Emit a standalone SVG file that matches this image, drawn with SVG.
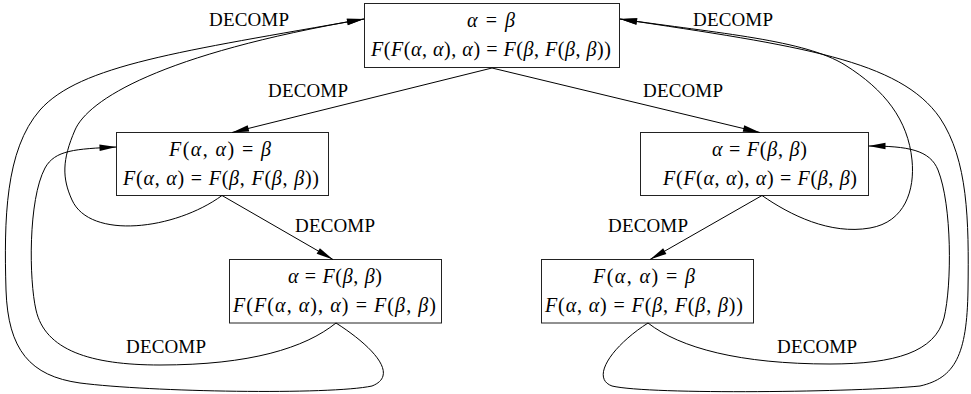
<svg xmlns="http://www.w3.org/2000/svg" width="971" height="394" viewBox="0 0 971 394">
<style>
.box{fill:#fff;stroke:#222;stroke-width:1}
.edge{fill:none;stroke:#000;stroke-width:1;marker-end:url(#ah)}
.lbl{font-family:"Liberation Serif","Times New Roman",serif;font-size:19px;text-anchor:middle;fill:#000}
.m{font-family:"Liberation Serif","Times New Roman",serif;font-size:20px;text-anchor:middle;fill:#000}
.i{font-style:italic}
</style>
<defs>
<marker id="ah" markerUnits="userSpaceOnUse" markerWidth="17" markerHeight="7" refX="17" refY="3.25" orient="auto" overflow="visible">
<path d="M0,0 L17,3.25 L0,6.5 z" fill="#000"/>
</marker>
</defs>
<g id="node-top">
<rect class="box" x="364.5" y="3.5" width="255" height="64"/>
<text class="m" x="491" y="27" textLength="48"><tspan class="i">α</tspan> = <tspan class="i">β</tspan></text>
<text class="m" x="491" y="56" textLength="240"><tspan class="i">F</tspan>(<tspan class="i">F</tspan>(<tspan class="i">α</tspan>, <tspan class="i">α</tspan>), <tspan class="i">α</tspan>) = <tspan class="i">F</tspan>(<tspan class="i">β</tspan>, <tspan class="i">F</tspan>(<tspan class="i">β</tspan>, <tspan class="i">β</tspan>))</text>
</g>
<g id="node-left">
<rect class="box" x="116.5" y="132.5" width="212" height="63"/>
<text class="m" x="220" y="156" textLength="102"><tspan class="i">F</tspan>(<tspan class="i">α</tspan>, <tspan class="i">α</tspan>) = <tspan class="i">β</tspan></text>
<text class="m" x="221" y="185" textLength="196"><tspan class="i">F</tspan>(<tspan class="i">α</tspan>, <tspan class="i">α</tspan>) = <tspan class="i">F</tspan>(<tspan class="i">β</tspan>, <tspan class="i">F</tspan>(<tspan class="i">β</tspan>, <tspan class="i">β</tspan>))</text>
</g>
<g id="node-right">
<rect class="box" x="640.5" y="132.5" width="228" height="63"/>
<text class="m" x="759.5" y="156" textLength="95"><tspan class="i">α</tspan> = <tspan class="i">F</tspan>(<tspan class="i">β</tspan>, <tspan class="i">β</tspan>)</text>
<text class="m" x="760" y="185" textLength="194"><tspan class="i">F</tspan>(<tspan class="i">F</tspan>(<tspan class="i">α</tspan>, <tspan class="i">α</tspan>), <tspan class="i">α</tspan>) = <tspan class="i">F</tspan>(<tspan class="i">β</tspan>, <tspan class="i">β</tspan>)</text>
</g>
<g id="node-bottom-left">
<rect class="box" x="229.5" y="259.5" width="212" height="63.5"/>
<text class="m" x="335" y="283" textLength="94"><tspan class="i">α</tspan> = <tspan class="i">F</tspan>(<tspan class="i">β</tspan>, <tspan class="i">β</tspan>)</text>
<text class="m" x="334.5" y="312" textLength="203"><tspan class="i">F</tspan>(<tspan class="i">F</tspan>(<tspan class="i">α</tspan>, <tspan class="i">α</tspan>), <tspan class="i">α</tspan>) = <tspan class="i">F</tspan>(<tspan class="i">β</tspan>, <tspan class="i">β</tspan>)</text>
</g>
<g id="node-bottom-right">
<rect class="box" x="541.5" y="259.5" width="212" height="63.5"/>
<text class="m" x="644" y="283" textLength="102"><tspan class="i">F</tspan>(<tspan class="i">α</tspan>, <tspan class="i">α</tspan>) = <tspan class="i">β</tspan></text>
<text class="m" x="644" y="312" textLength="198"><tspan class="i">F</tspan>(<tspan class="i">α</tspan>, <tspan class="i">α</tspan>) = <tspan class="i">F</tspan>(<tspan class="i">β</tspan>, <tspan class="i">F</tspan>(<tspan class="i">β</tspan>, <tspan class="i">β</tspan>))</text>
</g>
<g id="connectors">
<path class="edge" d="M492,68 L232,132.5"/>
<path class="edge" d="M492,68 L760,132.5"/>
<path class="edge" d="M222,195.5 L333,259.5"/>
<path class="edge" d="M762,195.5 L650,259.5"/>
<path class="edge" d="M222,195.5 C175,230 90,240 72,200 C62,178 62,160 75,130 C88,100 160,54 364,19"/>
<path class="edge" d="M336,323 C372,346 400,375 372,386 C330,395 150,392 80,383 C30,376 8,350 6,290 C4,220 5,150 40,110 C80,65 180,51.5 364,19"/>
<path class="edge" d="M336,323 C305,348 250,365 160,365 C90,365 45,350 36,310 C29,280 28,200 45,168 C55,150 75,149 116.5,147"/>
<path class="edge" d="M762,195.5 C790,215 830,235 870,228 C905,222 915,190 912,160 C908,120 885,90 845,65 C805,40 720,33.5 620,19"/>
<path class="edge" d="M648,323 C612,346 590,378 612,386 C650,395 860,392 920,386 C955,378 967,355 968,290 C969,220 968,160 940,118 C900,60 800,46 620,19"/>
<path class="edge" d="M648,323 C680,348 740,364 830,364 C895,364 935,352 944,318 C952,285 952,205 938,170 C930,150 908,146 868.5,146"/>
<text class="lbl" x="249" y="26" textLength="80">DECOMP</text>
<text class="lbl" x="733" y="26" textLength="80">DECOMP</text>
<text class="lbl" x="308" y="97" textLength="80">DECOMP</text>
<text class="lbl" x="683" y="97" textLength="80">DECOMP</text>
<text class="lbl" x="335" y="232" textLength="80">DECOMP</text>
<text class="lbl" x="648" y="232" textLength="80">DECOMP</text>
<text class="lbl" x="166" y="353" textLength="80">DECOMP</text>
<text class="lbl" x="817" y="353" textLength="80">DECOMP</text>
</g>
</svg>
